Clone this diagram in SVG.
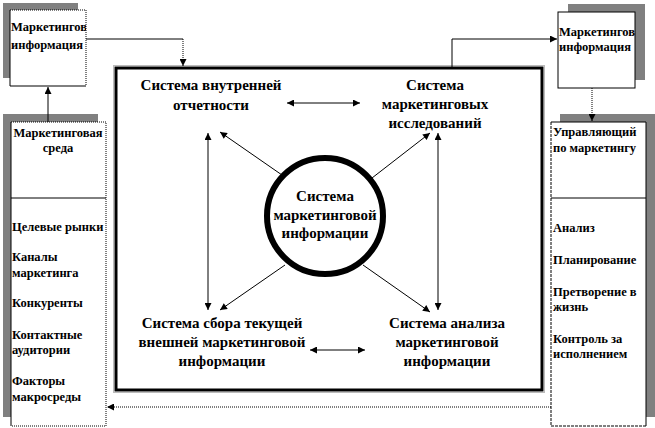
<svg xmlns="http://www.w3.org/2000/svg" width="655" height="428" viewBox="0 0 655 428">
<style>
text{font-family:"Liberation Serif","DejaVu Serif","Times New Roman",serif;font-weight:bold;fill:#000}
.m{font-size:15px;text-anchor:middle}
.s{font-size:12.5px}
.sh{fill:#808080}
.bx{fill:#fff}
.ln{stroke:#000;stroke-width:1;fill:none}
.dt{stroke:#000;stroke-width:1;fill:none;stroke-dasharray:1 1}
.ds{stroke:#000;stroke-width:1;fill:none;stroke-dasharray:3 1}
</style>
<defs>
<marker id="ah" viewBox="0 0 10 10" refX="10" refY="5" markerWidth="9" markerHeight="7" markerUnits="userSpaceOnUse" orient="auto-start-reverse">
<path d="M0,0 L10,5 L0,10 Z" fill="#000"/>
</marker>
<clipPath id="c1"><rect x="10" y="10" width="76" height="76"/></clipPath>
<clipPath id="c2"><rect x="558" y="12" width="77" height="76"/></clipPath>
</defs>

<g id="info-left">
<rect class="sh" x="3" y="3" width="75" height="75"/>
<rect class="bx" x="10" y="10" width="76" height="76"/>
<path class="ln" d="M10,10 V86 H86"/>
<path class="dt" d="M10,10 H86 V86"/>
<g clip-path="url(#c1)">
<text class="s" x="11" y="31">Маркетинговая</text>
<text class="s" x="11" y="49">информация</text>
</g>
</g>

<g id="info-right">
<rect class="sh" x="568" y="4" width="77" height="76"/>
<rect class="bx" x="558" y="12" width="77" height="76"/>
<rect class="ln" x="558" y="12" width="77" height="76"/>
<g clip-path="url(#c2)">
<text class="s" x="559" y="36">Маркетинговая</text>
<text class="s" x="559" y="51">информация</text>
</g>
</g>

<g id="env-panel">
<rect class="sh" x="3" y="114" width="95" height="303"/>
<rect class="bx" x="11" y="122" width="95" height="304"/>
<path class="ln" d="M11,122 V426"/>
<path class="dt" d="M11,122 H106 V426 H11"/>
<line class="ln" x1="11" y1="198" x2="106" y2="198"/>
<text class="s" x="58" y="137" text-anchor="middle">Маркетинговая</text>
<text class="s" x="58" y="152" text-anchor="middle">среда</text>
<text class="s" x="12" y="231">Целевые рынки</text>
<text class="s" x="12" y="261">Каналы</text>
<text class="s" x="12" y="277">маркетинга</text>
<text class="s" x="12" y="307">Конкуренты</text>
<text class="s" x="12" y="339">Контактные</text>
<text class="s" x="12" y="354">аудитории</text>
<text class="s" x="12" y="385">Факторы</text>
<text class="s" x="12" y="401">макросреды</text>
</g>

<g id="manager-panel">
<rect class="sh" x="560" y="114" width="95" height="303"/>
<rect class="bx" x="551" y="122" width="95" height="304"/>
<path class="ln" d="M551,122 H646 V426"/>
<path class="ds" d="M551,122 V426 H646"/>
<line class="ln" x1="551" y1="198" x2="646" y2="198"/>
<text class="s" x="553" y="136">Управляющий</text>
<text class="s" x="553" y="152">по маркетингу</text>
<text class="s" x="553" y="232">Анализ</text>
<text class="s" x="553" y="264">Планирование</text>
<text class="s" x="553" y="296">Претворение в</text>
<text class="s" x="553" y="311">жизнь</text>
<text class="s" x="553" y="343">Контроль за</text>
<text class="s" x="553" y="358">исполнением</text>
</g>

<g id="mis-system">
<rect x="113.5" y="65.5" width="431" height="327" fill="none" stroke="#777" stroke-width="1" stroke-dasharray="1 1"/>
<rect x="116" y="68" width="426" height="322" fill="#fff" stroke="#000" stroke-width="3"/>
</g>

<g id="internal">
<text class="m" x="211" y="90">Система внутренней</text>
<text class="m" x="211" y="110">отчетности</text>
</g>
<g id="research">
<text class="m" x="435" y="90">Система</text>
<text class="m" x="435" y="109">маркетинговых</text>
<text class="m" x="435" y="128">исследований</text>
</g>
<g id="center">
<circle cx="325" cy="216" r="58" fill="#fff" stroke="#000" stroke-width="6"/>
<text class="m" x="325" y="201">Система</text>
<text class="m" x="325" y="220">маркетинговой</text>
<text class="m" x="325" y="238">информации</text>
</g>
<g id="intelligence">
<text class="m" x="222" y="328">Система сбора текущей</text>
<text class="m" x="222" y="347">внешней маркетинговой</text>
<text class="m" x="222" y="366">информации</text>
</g>
<g id="analysis">
<text class="m" x="447" y="328">Система анализа</text>
<text class="m" x="447" y="347">маркетинговой</text>
<text class="m" x="447" y="366">информации</text>
</g>

<g id="connectors">
<path class="ln" d="M86,39 H183"/>
<path class="dt" d="M183,39 V66" marker-end="url(#ah)"/>
<path class="ln" d="M452,67 V39 H557" marker-end="url(#ah)"/>
<path class="dt" d="M592,88 V121" marker-end="url(#ah)"/>
<path class="ln" d="M48,122 V87" marker-end="url(#ah)"/>
<path class="dt" d="M551,407 H107" marker-end="url(#ah)"/>
<line class="ln" x1="287" y1="103" x2="360" y2="103" marker-start="url(#ah)" marker-end="url(#ah)"/>
<line class="ln" x1="310" y1="350" x2="365" y2="350" marker-start="url(#ah)" marker-end="url(#ah)"/>
<line class="ln" x1="208" y1="133" x2="208" y2="310" marker-start="url(#ah)" marker-end="url(#ah)"/>
<line class="ln" x1="438" y1="133" x2="438" y2="310" marker-start="url(#ah)" marker-end="url(#ah)"/>
<line class="ln" x1="282" y1="175" x2="220" y2="132" marker-end="url(#ah)"/>
<line class="ln" x1="372" y1="178" x2="430" y2="133" marker-end="url(#ah)"/>
<line class="ln" x1="285" y1="265" x2="220" y2="310" marker-end="url(#ah)"/>
<line class="ln" x1="363" y1="265" x2="430" y2="312" marker-end="url(#ah)"/>
</g>
</svg>
